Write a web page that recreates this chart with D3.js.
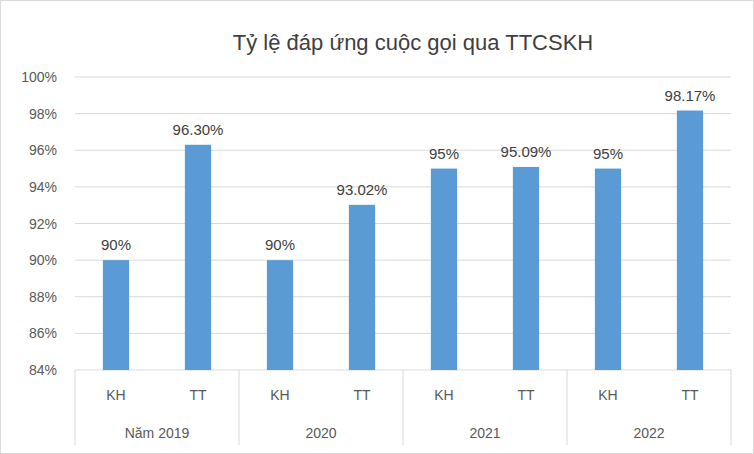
<!DOCTYPE html><html><head><meta charset="utf-8">
<script src="https://d3js.org/d3.v7.min.js"></script>
<style>body{margin:0;background:#fff}</style></head><body>
<script>
const years=["Năm 2019","2020","2021","2022"];
const subs=["KH","TT"];
const values=[90,96.30,90,93.02,95,95.09,95,98.17];
const valueLabels=["90%","96.30%","90%","93.02%","95%","95.09%","95%","98.17%"];
const yTicks=[84,86,88,90,92,94,96,98,100];
const title="Tỷ lệ đáp ứng cuộc gọi  qua TTCSKH";

const W=754,H=454,L=75,R=731,T=77,B=370;
const svg=d3.select("body").append("svg").attr("width",W).attr("height",H).style("font-family","'Liberation Sans',Arial,sans-serif");
svg.append("rect").attr("x",0.5).attr("y",0.5).attr("width",W-1).attr("height",H-1).attr("fill","#fff").attr("stroke","#d9d9d9");
svg.append("text").attr("x",(L+R)/2+10).attr("y",50).attr("text-anchor","middle").attr("font-size",22).attr("fill","#404040").text(title);
const y=d3.scaleLinear().domain([84,100]).range([B,T]);
const keys=values.map((v,i)=>i);
const x=d3.scaleBand().domain(keys).range([L,R]).paddingInner(0.68).paddingOuter(0.34);
const gx=d3.scaleBand().domain(years).range([L,R]);
svg.append("g").selectAll("line").data(yTicks).join("line").attr("x1",L).attr("x2",R).attr("y1",d=>y(d)).attr("y2",d=>y(d)).attr("stroke","#d9d9d9");
svg.append("g").selectAll("text").data(yTicks).join("text").attr("x",57).attr("y",d=>y(d)+5).attr("text-anchor","end").attr("font-size",14).attr("fill","#595959").text(d=>d+"%");
svg.append("g").selectAll("rect").data(values).join("rect").attr("x",(d,i)=>x(i)).attr("width",x.bandwidth()).attr("y",d=>y(d)).attr("height",d=>B-y(d)).attr("fill","#5b9bd5");
svg.append("g").selectAll("text").data(values).join("text").attr("x",(d,i)=>x(i)+x.bandwidth()/2).attr("y",d=>y(d)-10).attr("text-anchor","middle").attr("font-size",15).attr("fill","#404040").text((d,i)=>valueLabels[i]);
svg.append("g").selectAll("text").data(values).join("text").attr("x",(d,i)=>x(i)+x.bandwidth()/2).attr("y",400).attr("text-anchor","middle").attr("font-size",14).attr("fill","#595959").text((d,i)=>subs[i%2]);
svg.append("g").selectAll("text").data(years).join("text").attr("x",d=>gx(d)+gx.bandwidth()/2).attr("y",438).attr("text-anchor","middle").attr("font-size",14).attr("fill","#595959").text(d=>d);
const seps=years.map(d=>gx(d)).concat([R]);
svg.append("g").selectAll("line").data(seps).join("line").attr("x1",d=>d).attr("x2",d=>d).attr("y1",B).attr("y2",445).attr("stroke","#d9d9d9");
</script></body></html>
